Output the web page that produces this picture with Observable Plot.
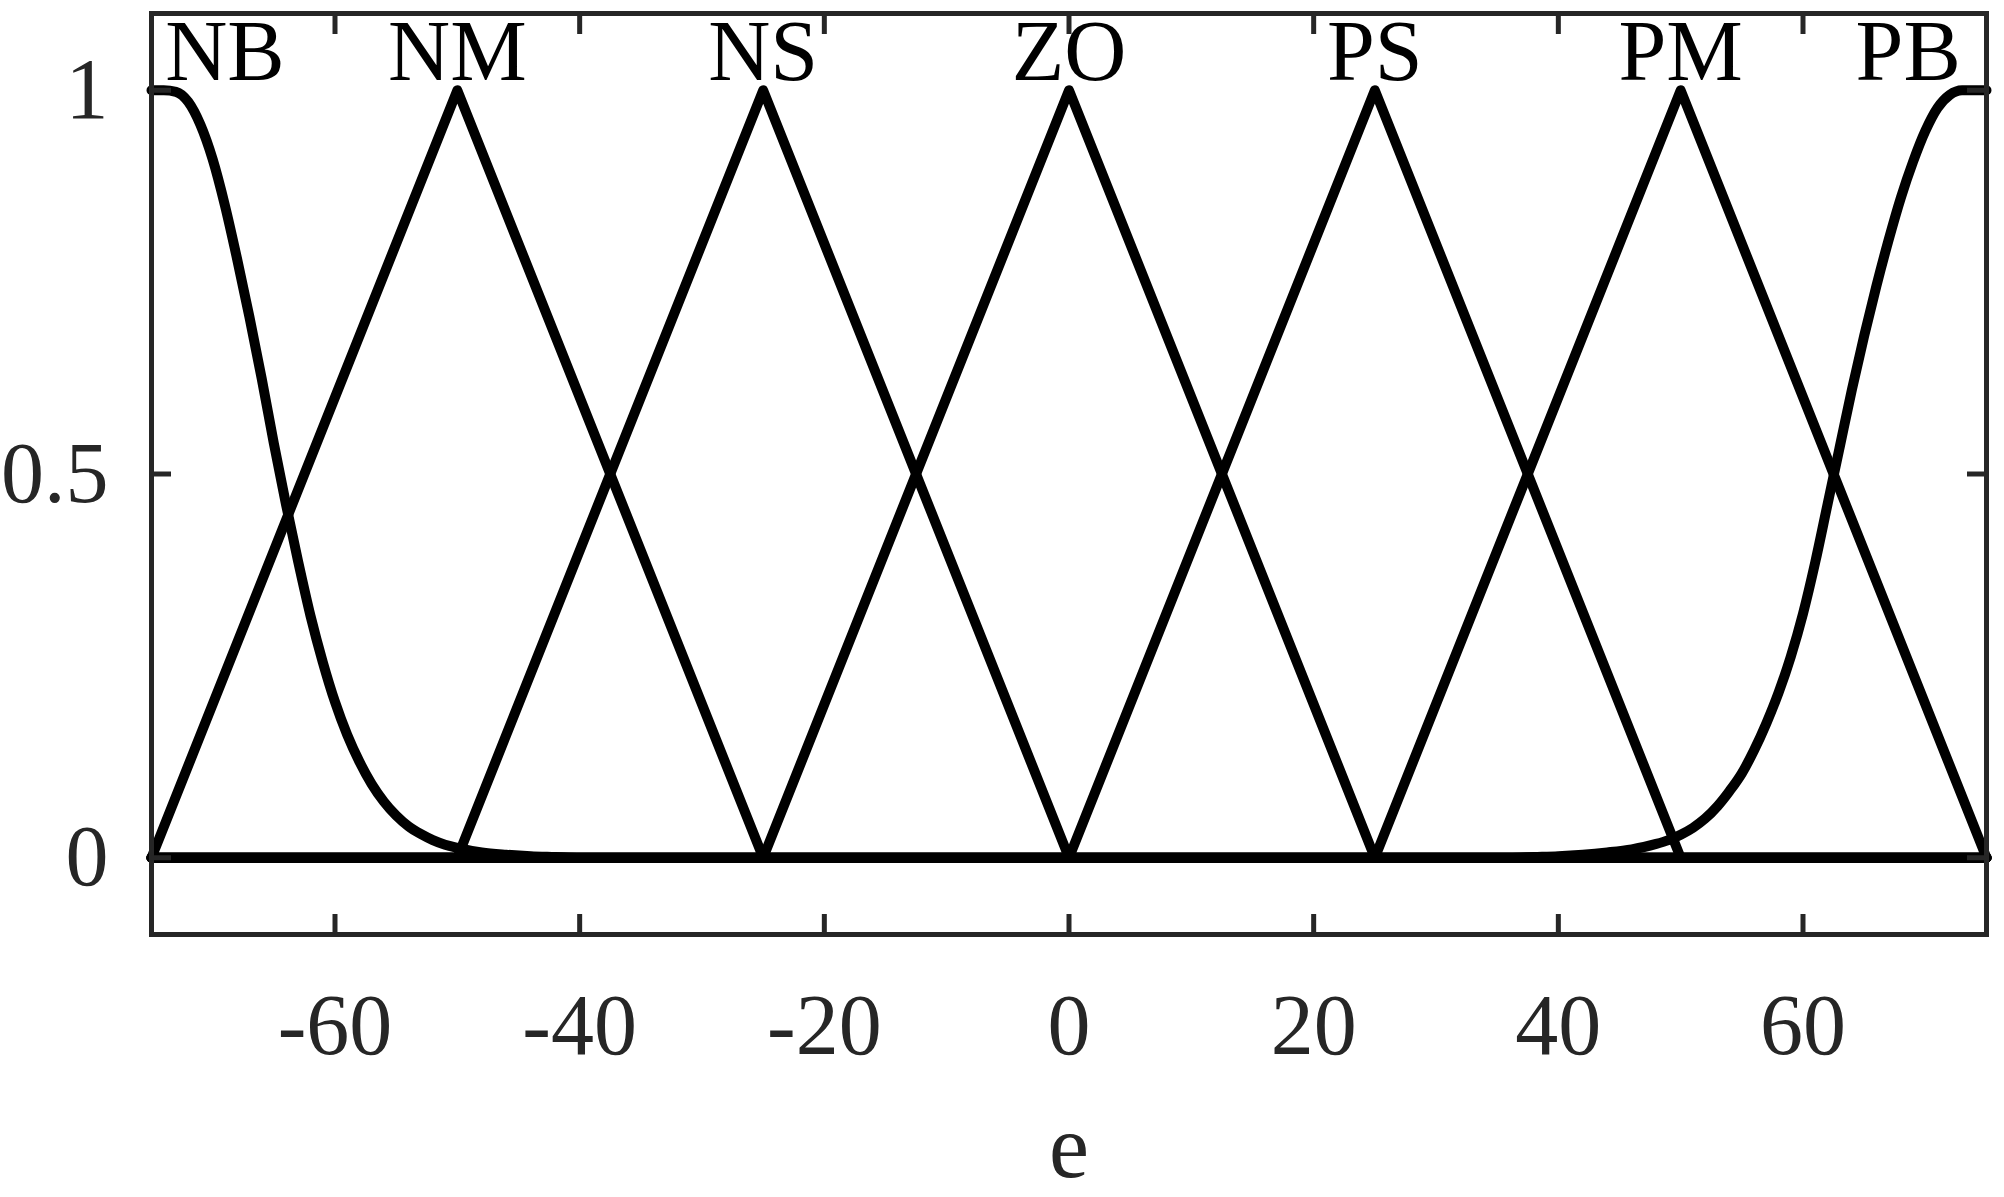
<!DOCTYPE html>
<html><head><meta charset="utf-8">
<script src="https://cdn.jsdelivr.net/npm/d3@7"></script>
<script src="https://cdn.jsdelivr.net/npm/@observablehq/plot@0.6"></script>
<style>html,body{margin:0;padding:0;background:#fff;overflow:hidden}</style>
</head><body><div id="chart"></div>
<script>
const xDomain = [-75, 75];
const yDomain = [-0.1, 1.1];
const xTicks = [-60, -40, -20, 0, 20, 40, 60];
const yTicks = [0, 0.5, 1];
const xLabel = "e";

const mfNames = ["NB", "NM", "NS", "ZO", "PS", "PM", "PB"];
const mfLabelX = [-69, -50, -25, 0, 25, 50, 68.6];

const triNames = ["NM", "NS", "ZO", "PS", "PM"];
const triLeft = [-75, -50, -25, 0, 25];
const triPeak = [-50, -25, 0, 25, 50];
const triRight = [-25, 0, 25, 50, 75];

const nbX = [-75, -74, -73, -72, -71, -70, -69, -68, -67, -66, -65, -64, -63, -62, -61, -60, -59, -58, -57, -56, -55, -54, -53, -52, -51, -50, -48, -46, -44, -42, -40, 75];
const nbY = [1, 1, 0.998, 0.985, 0.955, 0.91, 0.85, 0.78, 0.705, 0.625, 0.54, 0.46, 0.385, 0.315, 0.255, 0.203, 0.16, 0.125, 0.096, 0.073, 0.055, 0.041, 0.031, 0.023, 0.017, 0.013, 0.007, 0.004, 0.002, 0.001, 0, 0];

const pbX = [-75, 36, 38, 40, 42, 44, 46, 47, 48, 49, 50, 51, 52, 53, 54, 55, 56, 57, 58, 59, 60, 61, 62, 63, 64, 65, 66, 67, 68, 69, 70, 71, 72, 73, 74, 75];
const pbY = [0, 0, 0.001, 0.002, 0.004, 0.007, 0.011, 0.014, 0.018, 0.023, 0.03, 0.039, 0.051, 0.067, 0.087, 0.11, 0.14, 0.175, 0.215, 0.262, 0.318, 0.385, 0.46, 0.535, 0.61, 0.68, 0.745, 0.805, 0.86, 0.907, 0.947, 0.977, 0.994, 1, 1, 1];

const triRows = [];
triNames.forEach((n, i) => {
  triRows.push({name: n, x: xDomain[0], y: 0});
  triRows.push({name: n, x: triLeft[i], y: 0});
  triRows.push({name: n, x: triPeak[i], y: 1});
  triRows.push({name: n, x: triRight[i], y: 0});
  triRows.push({name: n, x: xDomain[1], y: 0});
});
const curveRows = [
  ...nbX.map((x, i) => ({name: "NB", x, y: nbY[i]})),
  ...pbX.map((x, i) => ({name: "PB", x, y: pbY[i]}))
];
const labelRows = mfNames.map((n, i) => ({name: n, x: mfLabelX[i], y: 1}));

const axisColor = "#262626";
const font = "Liberation Serif";

const chart = Plot.plot({
  width: 2004,
  height: 1197,
  marginLeft: 151,
  marginRight: 18,
  marginTop: 13,
  marginBottom: 263,
  style: {fontFamily: font, fontSize: "86px", color: axisColor, background: "#fff"},
  x: {domain: xDomain},
  y: {domain: yDomain},
  marks: [
    Plot.line(curveRows, {x: "x", y: "y", z: "name", stroke: "black", strokeWidth: 10, curve: "monotone-x", strokeLinejoin: "round"}),
    Plot.line(triRows, {x: "x", y: "y", z: "name", stroke: "black", strokeWidth: 10, strokeLinejoin: "round"}),
    Plot.frame({stroke: axisColor, strokeWidth: 5}),
    Plot.axisX(xTicks, {anchor: "bottom", tickSize: -20, tickPadding: 78, label: null, stroke: axisColor, strokeWidth: 5, fill: axisColor, fontSize: 86, fontFamily: font, tickFormat: d => String(d)}),
    Plot.axisX(xTicks, {anchor: "top", tickSize: -20, tickFormat: () => "", label: null, stroke: axisColor, strokeWidth: 5}),
    Plot.axisY(yTicks, {anchor: "left", tickSize: -20, tickPadding: 63, label: null, stroke: axisColor, strokeWidth: 5, fill: axisColor, fontSize: 86, fontFamily: font, tickFormat: d => String(d)}),
    Plot.axisY(yTicks, {anchor: "right", tickSize: -20, tickFormat: () => "", label: null, stroke: axisColor, strokeWidth: 5}),
    Plot.text(labelRows, {x: "x", y: "y", text: "name", fill: "black", fontSize: 86, fontFamily: font, textAnchor: "middle", lineAnchor: "middle", dy: -38}),
    Plot.text([xLabel], {frameAnchor: "bottom", text: d => d, fill: axisColor, fontSize: 90, fontFamily: font, lineAnchor: "middle", dy: 214})
  ]
});
document.getElementById("chart").appendChild(chart);
</script>
</body></html>
